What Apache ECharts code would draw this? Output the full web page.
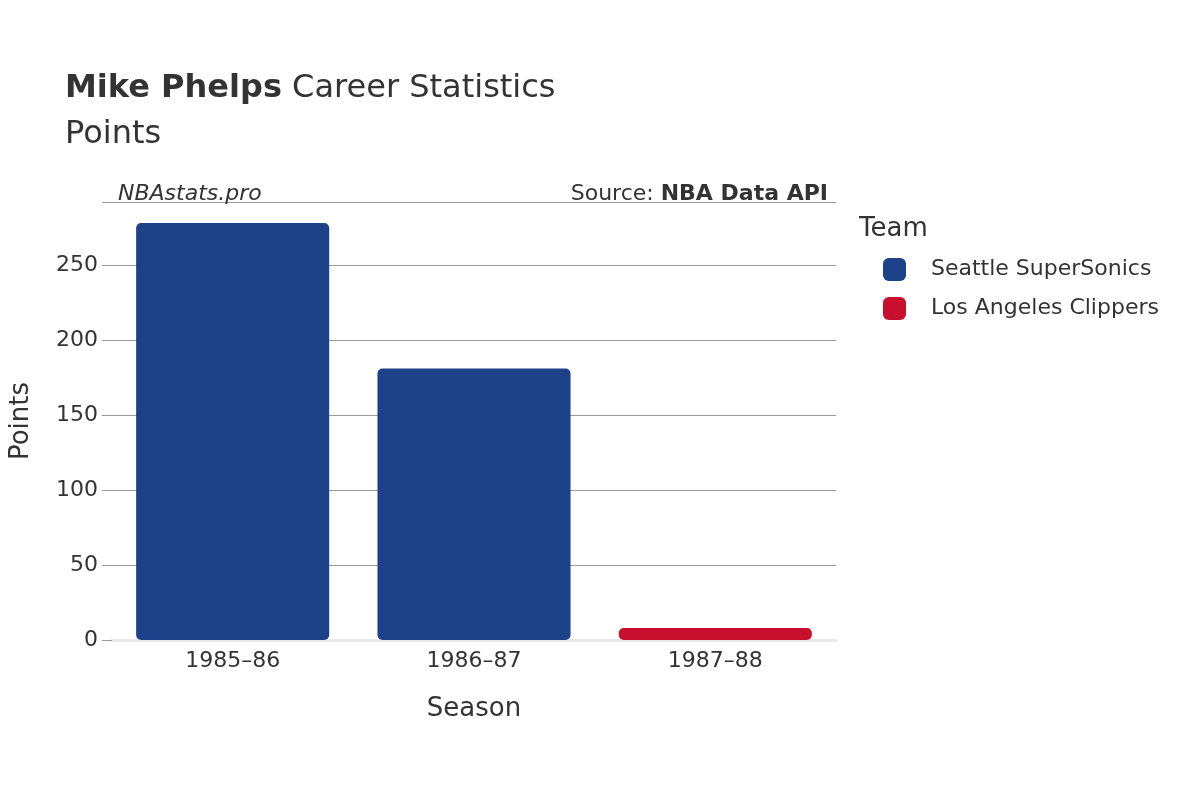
<!DOCTYPE html>
<html>
<head>
<meta charset="utf-8">
<script src="https://cdn.jsdelivr.net/npm/echarts@6/dist/echarts.min.js"></script>
<style>html,body{margin:0;padding:0;background:#fff}#c{width:1200px;height:800px}</style>
</head>
<body>
<div id="c"></div>
<script>
const seasons = ['1985–86', '1986–87', '1987–88'];
const sonics = [278, 181, null];
const clippers = [null, null, 8];
const yTicks = [0, 50, 100, 150, 200, 250];

const font = 'DejaVu Sans';
const chart = echarts.init(document.getElementById('c'));
const barStyle = {borderRadius: 5};
chart.setOption({
    textStyle: {fontFamily: font, color: '#333'},
    animation: false,
    title: [{
        left: 60, top: 68,
        text: '{b|Mike Phelps} Career Statistics',
        textStyle: {fontSize: 32, fontWeight: 'normal', color: '#333', fontFamily: font,
            rich: {b: {fontSize: 32, fontWeight: 'bold', color: '#333', fontFamily: font}}},
    }, {
        left: 60, top: 114, text: 'Points',
        textStyle: {fontSize: 32, fontWeight: 'normal', color: '#333', fontFamily: font},
    }, {
        left: 113, top: 178, text: 'NBAstats.pro',
        textStyle: {fontSize: 22, fontStyle: 'italic', fontWeight: 'normal', color: '#333', fontFamily: font},
    }, {
        right: 367, top: 178, text: 'Source: {b|NBA Data API}',
        textStyle: {fontSize: 22, fontWeight: 'normal', color: '#333', fontFamily: font,
            rich: {b: {fontSize: 22, fontWeight: 'bold', color: '#333', fontFamily: font}}},
    }, {
        left: 854, top: 211, text: 'Team',
        textStyle: {fontSize: 26, fontWeight: 'normal', color: '#333', fontFamily: font},
    }],
    legend: {
        orient: 'vertical', left: 878, top: 253, itemGap: 16,
        icon: 'roundRect', itemWidth: 23, itemHeight: 23,
        textStyle: {fontSize: 22, color: '#333', padding: [0, 0, 0, 20]},
        data: ['Seattle SuperSonics', 'Los Angeles Clippers'],
    },
    grid: {left: 108, right: 364, top: 202, bottom: 160},
    xAxis: {
        type: 'category', data: seasons,
        name: 'Season', nameLocation: 'middle', nameGap: 56,
        nameTextStyle: {fontSize: 26, color: '#333'},
        axisLine: {show: true, lineStyle: {color: '#e8e8e8', width: 3}},
        axisTick: {show: false},
        axisLabel: {fontSize: 22, color: '#333', margin: 10},
    },
    yAxis: {
        type: 'value', min: 0, max: 292, interval: 50,
        name: 'Points', nameLocation: 'middle', nameGap: 78,
        nameTextStyle: {fontSize: 26, color: '#333'},
        axisLine: {show: false},
        axisTick: {show: true, length: 10, lineStyle: {color: '#999'}},
        splitLine: {lineStyle: {color: '#999', width: 1}},
        axisLabel: {fontSize: 22, color: '#333', margin: 14,
            formatter: v => yTicks.includes(v) ? String(v) : ''},
    },
    series: [{
        name: 'Seattle SuperSonics', type: 'bar', stack: 't', data: sonics,
        barCategoryGap: '20%', itemStyle: {color: '#1d428a', ...barStyle},
    }, {
        name: 'Los Angeles Clippers', type: 'bar', stack: 't', data: clippers,
        itemStyle: {color: '#c8102e', ...barStyle},
    }],
});
</script>
</body>
</html>
